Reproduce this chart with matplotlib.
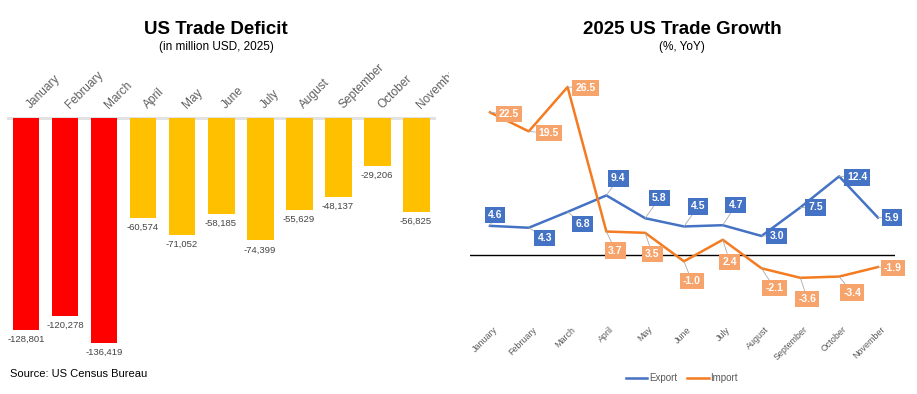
import matplotlib
matplotlib.use("Agg")
import matplotlib.pyplot as plt
from matplotlib.lines import Line2D
from matplotlib.transforms import Bbox, TransformedBbox

plt.rcParams['font.family'] = ['Liberation Sans', 'DejaVu Sans']

months = ["January", "February", "March", "April", "May", "June", "July",
          "August", "September", "October", "November"]
deficit = [-128801, -120278, -136419, -60574, -71052, -58185, -74399,
           -55629, -48137, -29206, -56825]
export_growth = [4.6, 4.3, 6.8, 9.4, 5.8, 4.5, 4.7, 3.0, 7.5, 12.4, 5.9]
import_growth = [22.5, 19.5, 26.5, 3.7, 3.5, -1.0, 2.4, -2.1, -3.6, -3.4, -1.9]

RED = "#FF0000"
YELLOW = "#FFC000"
BLUE = "#4472C4"
ORANGE = "#F47B20"
ORANGE_BOX = "#F7A46C"
GRAY = "#595959"

W, H = 917, 394
fig = plt.figure(figsize=(W / 100, H / 100), dpi=100)


def frac(x0, y0, x1, y1):
    return [x0 / W, 1 - y1 / H, (x1 - x0) / W, (y1 - y0) / H]


# ---------------- Left: bar chart ----------------
ax1 = fig.add_axes(frac(7, 60, 436, 350))
xs = list(range(len(months)))
colors = [RED if i < 3 else YELLOW for i in xs]
ax1.bar(xs, deficit, width=0.69, color=colors, zorder=2)
ax1.axhline(0, color="#E2E2E2", lw=2.2, zorder=1)
ax1.set_xlim(-0.487, 10.51)
ax1.set_ylim(-140948, 35237)
ax1.axis("off")
clip = TransformedBbox(Bbox([[0, 0], [449 / W, 1]]), fig.transFigure)
for i, (m, v) in enumerate(zip(months, deficit)):
    t = ax1.annotate(m, (i, 0), xytext=(5, 9), textcoords="offset pixels",
                     rotation=45, ha="left", va="baseline", rotation_mode="anchor",
                     fontsize=8.6, color="#606060", annotation_clip=False)
    t.set_clip_on(True)
    t.set_clip_box(clip)
    ax1.annotate(f"{v:,}", (i, v), xytext=(0, -5), textcoords="offset pixels",
                 ha="center", va="top", fontsize=6.8, color="#444444")

fig.text(216 / W, 1 - 30 / H, "US Trade Deficit", ha="center", va="center",
         fontsize=13.5, fontweight="bold")
fig.text(216 / W, 1 - 47 / H, "(in million USD, 2025)", ha="center", va="center",
         fontsize=8.5)
fig.text(10 / W, 1 - 374 / H, "Source: US Census Bureau", ha="left", va="center",
         fontsize=8)

# ---------------- Right: line chart ----------------
ax2 = fig.add_axes(frac(470, 70, 895, 310))
ax2.plot(xs, export_growth, color=BLUE, lw=1.8, zorder=3)
ax2.plot(xs, import_growth, color=ORANGE, lw=1.8, zorder=3)
ax2.axhline(0, color="black", lw=1, zorder=2)
ax2.set_xlim(-0.515, 10.44)
ax2.set_ylim(-8.675, 29.18)
ax2.axis("off")

export_offsets = [(5, 11), (16, -10), (15, -12), (12, 17), (14, 20), (14, 20),
                  (13, 20), (15, 0), (15, 0), (18, -1), (14, 0)]
import_offsets = [(19, -2), (20, -2), (18, -1), (9, -19), (7, -21), (8, -20),
                  (7, -22), (13, -20), (7, -21), (13, -16), (15, -1)]

for i, (v, off) in enumerate(zip(export_growth, export_offsets)):
    ax2.annotate(f"{v:.1f}", (i, v), xytext=off, textcoords="offset pixels",
                 ha="center", va="center", fontsize=7.5, fontweight="bold",
                 color="white", zorder=5,
                 bbox=dict(boxstyle="square,pad=0.3", fc=BLUE, ec="none"),
                 arrowprops=dict(arrowstyle="-", color="#AAAAAA", lw=0.6,
                                 shrinkA=0, shrinkB=0))
for i, (v, off) in enumerate(zip(import_growth, import_offsets)):
    ax2.annotate(f"{v:.1f}", (i, v), xytext=off, textcoords="offset pixels",
                 ha="center", va="center", fontsize=7.5, fontweight="bold",
                 color="white", zorder=5,
                 bbox=dict(boxstyle="square,pad=0.3", fc=ORANGE_BOX, ec="none"),
                 arrowprops=dict(arrowstyle="-", color="#AAAAAA", lw=0.6,
                                 shrinkA=0, shrinkB=0))

for i, m in enumerate(months):
    ax2.annotate(m, (i, -8.675), xytext=(3, -15), textcoords="offset pixels",
                 rotation=45, ha="right", va="top", rotation_mode="anchor",
                 fontsize=6.4, color=GRAY, annotation_clip=False)

handles = [Line2D([], [], color=BLUE, lw=1.8), Line2D([], [], color=ORANGE, lw=1.8)]
fig.legend(handles, ["Export", "Import"], loc="center", ncol=2,
           bbox_to_anchor=(682 / W, 1 - 378 / H), frameon=False, fontsize=7,
           handlelength=2.2, handletextpad=0.2, columnspacing=1.0,
           labelcolor=GRAY)

fig.text(682 / W, 1 - 30 / H, "2025 US Trade Growth", ha="center", va="center",
         fontsize=13.5, fontweight="bold")
fig.text(682 / W, 1 - 47 / H, "(%, YoY)", ha="center", va="center", fontsize=8.5)

fig.savefig("out.png", dpi=100)
